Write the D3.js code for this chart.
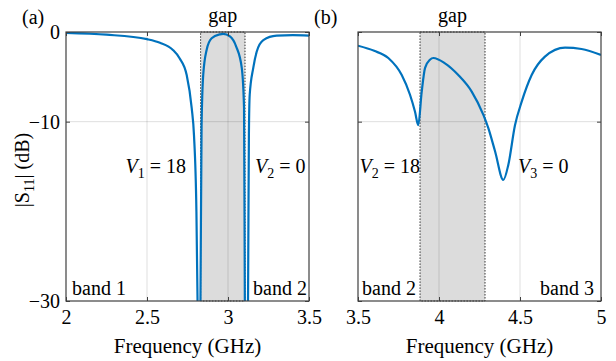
<!DOCTYPE html>
<html>
<head>
<meta charset="utf-8">
<script src="https://cdn.jsdelivr.net/npm/d3@7"></script>
<style>
  body { margin: 0; background: #fff; }
  svg text { font-family: "Liberation Serif", "DejaVu Serif", serif !important; fill: #000; }
</style>
</head>
<body>
<div id="chart"></div>
<script>
// panel (a): band 1 / band 2
const freqA = [2.00, 2.25, 2.50, 2.58, 2.66, 2.70, 2.745, 2.776, 2.79, 2.805, 2.812, 2.82, 2.83, 2.837,
  2.847, 2.868, 2.899, 2.95, 2.97, 3.012, 3.05, 3.085, 3.099, 3.104, 3.112, 3.124, 3.129, 3.134,
  3.156, 3.177, 3.218, 3.30, 3.40, 3.50];
const s11A = [-0.1, -0.3, -0.8, -1.2, -2.0, -2.9, -4.8, -8.5, -11.5, -20, -30, -45, -30, -10.4,
  -4.8, -2.0, -0.7, -0.26, -0.2, -0.5, -1.6, -4.0, -8.5, -30, -45, -28.8, -11.5, -7,
  -4.0, -2.2, -0.9, -0.4, -0.35, -0.4];
// panel (b): band 2 / band 3
const freqB = [3.50, 3.60, 3.687, 3.77, 3.821, 3.852, 3.872, 3.893, 3.914, 3.944, 3.965, 4.037, 4.119,
  4.202, 4.274, 4.304, 4.346, 4.397, 4.428, 4.469, 4.51, 4.572, 4.654, 4.778, 4.88, 5.0];
const s11B = [-1.53, -2.1, -2.9, -4.8, -7.0, -8.9, -10.4, -6.7, -4.0, -3.1, -2.9, -3.5, -4.8,
  -6.65, -9.25, -10.7, -13.3, -16.5, -14.8, -10.4, -7.8, -4.8, -2.75, -1.75, -1.9, -2.56];

const gapA = [2.831, 3.105];
const gapB = [3.883, 4.284];
const xTicksA = [2, 2.5, 3, 3.5];
const xTicksB = [3.5, 4, 4.5, 5];
const yTicks = [0, -10, -30];

const width = 616, height = 361;
const yTop = 32, yBot = 301;
const blue = "#0072BD";

const svg = d3.select("#chart").append("svg").attr("width", width).attr("height", height);

const y = d3.scaleLinear().domain([-30, 0]).range([yBot, yTop]);

function panel(id, xr, domain, freq, s11, gap, xTicks, showY, labels) {
  const x = d3.scaleLinear().domain(domain).range(xr);
  const g = svg.append("g");

  g.append("clipPath").attr("id", "clip" + id)
    .append("rect").attr("x", xr[0]).attr("y", yTop).attr("width", xr[1] - xr[0]).attr("height", yBot - yTop);

  g.append("rect")
    .attr("x", x(gap[0])).attr("y", yTop)
    .attr("width", x(gap[1]) - x(gap[0])).attr("height", yBot - yTop)
    .attr("fill", "#dcdcdc").attr("stroke", "#333").attr("stroke-width", 1)
    .attr("stroke-dasharray", "1.5,1.5");

  // grid
  g.selectAll(".gx").data(xTicks.slice(1, -1)).enter().append("line")
    .attr("x1", d => x(d)).attr("x2", d => x(d)).attr("y1", yTop).attr("y2", yBot)
    .attr("stroke", "#000").attr("stroke-opacity", 0.13);
  g.selectAll(".gy").data([-10]).enter().append("line")
    .attr("x1", xr[0]).attr("x2", xr[1]).attr("y1", d => y(d)).attr("y2", d => y(d))
    .attr("stroke", "#000").attr("stroke-opacity", 0.13);

  const line = d3.line().x((d, i) => x(freq[i])).y(d => y(d)).curve(d3.curveMonotoneX);
  g.append("path").datum(s11)
    .attr("d", line).attr("fill", "none").attr("stroke", blue).attr("stroke-width", 2.2)
    .attr("clip-path", `url(#clip${id})`);

  // axes
  const xb = g.append("g").attr("transform", `translate(0,${yBot})`)
    .call(d3.axisBottom(x).tickValues(xTicks).tickSize(-4).tickSizeOuter(0).tickPadding(9).tickFormat(d3.format("")));
  const xt = g.append("g").attr("transform", `translate(0,${yTop})`)
    .call(d3.axisTop(x).tickValues(xTicks).tickSize(-4).tickSizeOuter(0).tickFormat(""));
  const ya = g.append("g").attr("transform", `translate(${xr[0]},0)`)
    .call(d3.axisLeft(y).tickValues(yTicks).tickSize(-4).tickSizeOuter(0).tickPadding(6)
      .tickFormat(showY ? d3.format("") : ""));
  const yb = g.append("g").attr("transform", `translate(${xr[1]},0)`)
    .call(d3.axisRight(y).tickValues(yTicks).tickSize(-4).tickSizeOuter(0).tickFormat(""));
  [xb, xt, ya, yb].forEach(a => {
    a.attr("font-family", null);
    a.select(".domain").remove();
    a.selectAll("line").attr("stroke", "#404040");
    a.selectAll("text").style("font-size", "20px").attr("fill", "#000");
  });
  ya.selectAll("text").attr("dy", "0.32em");

  g.append("rect").attr("x", xr[0]).attr("y", yTop).attr("width", xr[1] - xr[0]).attr("height", yBot - yTop)
    .attr("fill", "none").attr("stroke", "#404040").attr("stroke-width", 1.2);

  g.append("text").attr("x", (xr[0] + xr[1]) / 2).attr("y", 353)
    .attr("text-anchor", "middle").style("font-size", "21px").text("Frequency (GHz)");
  g.append("text").attr("x", x((gap[0] + gap[1]) / 2)).attr("y", 22)
    .attr("text-anchor", "middle").style("font-size", "20px").text("gap");
  g.append("text").attr("x", xr[0] - 44).attr("y", 24).style("font-size", "20px").text(labels.tag);

  labels.v.forEach(v => {
    const t = g.append("text").attr("x", v.x).attr("y", 173).attr("text-anchor", v.anchor).style("font-size", "20px");
    t.append("tspan").style("font-style", "italic").text("V");
    t.append("tspan").attr("dy", 5).style("font-size", "14px").text(v.sub);
    t.append("tspan").attr("dy", -5).text(" = " + v.val);
  });
  labels.band.forEach(b => {
    g.append("text").attr("x", b.x).attr("y", 295).attr("text-anchor", b.anchor)
      .style("font-size", "20px").text(b.text);
  });
}

panel("a", [66, 309], [2, 3.5], freqA, s11A, gapA, xTicksA, true, {
  tag: "(a)",
  v: [{ x: 186, anchor: "end", sub: "1", val: "18" }, { x: 255, anchor: "start", sub: "2", val: "0" }],
  band: [{ x: 72, anchor: "start", text: "band 1" }, { x: 307, anchor: "end", text: "band 2" }]
});
panel("b", [358, 601], [3.5, 5], freqB, s11B, gapB, xTicksB, false, {
  tag: "(b)",
  v: [{ x: 420, anchor: "end", sub: "2", val: "18" }, { x: 518, anchor: "start", sub: "3", val: "0" }],
  band: [{ x: 362, anchor: "start", text: "band 2" }, { x: 594, anchor: "end", text: "band 3" }]
});

// y label
const yLabel = svg.append("text").attr("transform", "translate(29,170) rotate(-90)")
  .attr("text-anchor", "middle").style("font-size", "20px");
yLabel.append("tspan").text("|S");
yLabel.append("tspan").attr("dy", 5).style("font-size", "14px").text("11");
yLabel.append("tspan").attr("dy", -5).text("| (dB)");
</script>
</body>
</html>
